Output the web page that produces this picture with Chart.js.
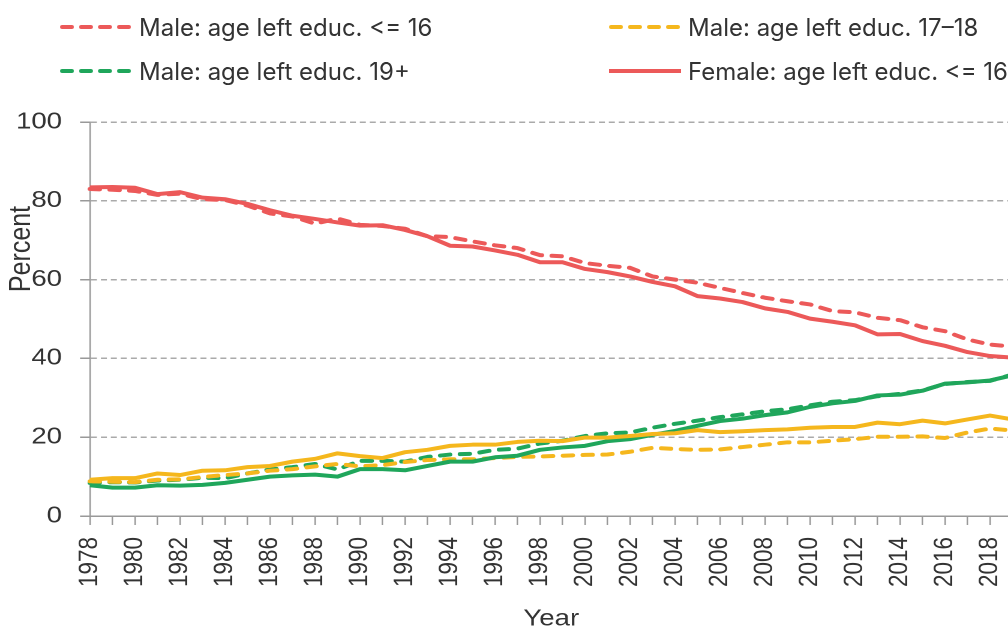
<!DOCTYPE html>
<html>
<head>
<meta charset="utf-8">
<script src="https://cdn.jsdelivr.net/npm/chart.js@4.4.1/dist/chart.umd.min.js"></script>
<style>
  html, body { margin: 0; padding: 0; background: #fff; overflow: hidden; width: 1008px; height: 631px; }
  /* o original parece esticado na horizontal: desenha mais estreito e estica */
  #wrap { position: absolute; left: 0; top: 0; width: 860px; height: 631px; transform: scaleX(1.2); transform-origin: 0 0; }
  #legenda { position: absolute; left: 0; top: 0; width: 1100px; height: 100px; font-family: Inter, sans-serif; font-size: 24px; color: #333; z-index: 2; }
  .item { position: absolute; display: flex; align-items: center; white-space: nowrap; height: 30px; }
  .item svg { margin-right: 7px; }
</style>
</head>
<body>
<div id="legenda"></div>
<div id="wrap"><canvas id="grafico"></canvas></div>
<script>
const anos = [1978, 1979, 1980, 1981, 1982, 1983, 1984, 1985, 1986, 1987, 1988, 1989, 1990, 1991,
  1992, 1993, 1994, 1995, 1996, 1997, 1998, 1999, 2000, 2001, 2002, 2003, 2004, 2005,
  2006, 2007, 2008, 2009, 2010, 2011, 2012, 2013, 2014, 2015, 2016, 2017, 2018, 2019];

const maleAte16 = [83.0, 82.8, 82.5, 81.5, 81.8, 80.4, 80.2, 78.8, 76.8, 76.0, 74.2, 75.5, 73.9, 73.6,
  72.9, 71.0, 70.8, 69.7, 68.7, 68.0, 66.2, 65.9, 64.2, 63.5, 63.0, 60.8, 60.0, 59.2,
  57.9, 56.6, 55.4, 54.5, 53.7, 52.0, 51.7, 50.3, 49.7, 47.9, 46.9, 44.8, 43.5, 43.0];
const femaleAte16 = [83.4, 83.5, 83.3, 81.7, 82.2, 80.8, 80.4, 79.2, 77.6, 76.2, 75.4, 74.5, 73.7, 73.8,
  72.6, 71.0, 68.6, 68.4, 67.4, 66.3, 64.4, 64.4, 62.7, 61.9, 60.8, 59.4, 58.3, 55.8,
  55.2, 54.3, 52.7, 51.8, 50.1, 49.3, 48.4, 46.1, 46.2, 44.4, 43.2, 41.6, 40.6, 40.2];
const male1718 = [8.8, 8.7, 8.6, 9.2, 9.3, 9.9, 10.4, 10.8, 11.5, 11.9, 12.6, 13.2, 12.6, 12.9,
  13.7, 14.2, 14.4, 14.4, 14.7, 15.0, 15.1, 15.3, 15.5, 15.6, 16.3, 17.3, 17.0, 16.8,
  16.9, 17.5, 18.1, 18.7, 18.7, 19.1, 19.5, 20.1, 20.1, 20.2, 19.8, 21.2, 22.2, 21.7];
const female1718 = [9.2, 9.6, 9.6, 10.8, 10.4, 11.5, 11.6, 12.4, 12.7, 13.8, 14.5, 15.9, 15.2, 14.7,
  16.2, 16.8, 17.8, 18.1, 18.1, 18.8, 19.1, 19.0, 19.9, 19.9, 20.3, 20.8, 21.0, 21.8,
  21.3, 21.5, 21.8, 22.0, 22.4, 22.6, 22.6, 23.7, 23.3, 24.2, 23.5, 24.5, 25.5, 24.5];
const male19 = [8.4, 8.6, 8.5, 9.0, 9.2, 9.7, 9.6, 10.8, 11.8, 12.4, 13.2, 11.8, 14.0, 14.0,
  13.8, 15.0, 15.6, 15.8, 16.8, 17.1, 18.4, 19.1, 20.3, 21.0, 21.2, 22.4, 23.4, 24.2,
  25.1, 25.8, 26.6, 27.1, 28.1, 29.0, 29.4, 30.4, 31.0, 31.9, 33.5, 34.0, 34.3, 35.9];
const female19 = [7.8, 7.2, 7.2, 7.8, 7.7, 7.9, 8.4, 9.2, 10.0, 10.3, 10.5, 10.0, 11.9, 11.9,
  11.6, 12.7, 13.8, 13.8, 14.9, 15.3, 16.8, 17.4, 17.8, 19.0, 19.5, 20.6, 21.6, 22.9,
  24.1, 24.7, 25.6, 26.3, 27.7, 28.6, 29.2, 30.6, 30.8, 31.8, 33.6, 33.9, 34.4, 35.7];

const yTicks = [0, 20, 40, 60, 80, 100];

const VERMELHO = '#ec5959';
const AMARELO = '#f5b71d';
const VERDE = '#1fa65b';
const TRACO = [8, 8.5];
const fonte = '"Liberation Sans", Arial, sans-serif';

function serie(label, data, cor, tracejada) {
  return {
    label, data,
    borderColor: cor,
    backgroundColor: cor,
    borderWidth: 4,
    borderDash: tracejada ? TRACO : [],
    borderCapStyle: tracejada ? 'round' : 'butt',
    borderJoinStyle: 'round',
    pointRadius: 0,
    tension: 0,
    fill: false
  };
}

const datasets = [
  serie('Female: age left educ. 17–18', female1718, AMARELO, false),
  serie('Female: age left educ. 19+', female19, VERDE, false),
  serie('Male: age left educ. 17–18', male1718, AMARELO, true),
  serie('Male: age left educ. 19+', male19, VERDE, true),
  serie('Female: age left educ. <= 16', femaleAte16, VERMELHO, false),
  serie('Male: age left educ. <= 16', maleAte16, VERMELHO, true),
];

// legenda em duas colunas (a terceira ficou fora do recorte)
const ordemLegenda = [
  'Male: age left educ. <= 16', 'Male: age left educ. 17–18',
  'Male: age left educ. 19+', 'Female: age left educ. <= 16'
];
const colunasX = [60, 609];
const linhasY = [12, 56];
const legenda = document.getElementById('legenda');
ordemLegenda.forEach((nome, i) => {
  const ds = datasets.find(d => d.label === nome);
  const dash = ds.borderDash.length ? `stroke-dasharray="10 9" stroke-linecap="round"` : '';
  const div = document.createElement('div');
  div.className = 'item';
  div.style.left = colunasX[i % 2] + 'px';
  div.style.top = linhasY[Math.floor(i / 2)] + 'px';
  div.innerHTML = `<svg width="72" height="10"><line x1="${dash ? 2 : 0}" y1="5" x2="${dash ? 70 : 72}" y2="5" stroke="${ds.borderColor}" stroke-width="4" ${dash}/></svg><span>${nome}</span>`;
  legenda.appendChild(div);
});

const tituloY = {
  id: 'tituloY',
  afterDraw(chart) {
    const ctx = chart.ctx;
    ctx.save();
    ctx.translate(18.3, 249);
    ctx.rotate(-Math.PI / 2);
    ctx.font = '25px ' + fonte;
    ctx.fillStyle = '#333';
    ctx.textAlign = 'center';
    ctx.textBaseline = 'middle';
    ctx.fillText('Percent', 0, 0);
    ctx.restore();
  }
};

new Chart(document.getElementById('grafico'), {
  type: 'line',
  data: { labels: anos, datasets },
  plugins: [tituloY],
  options: {
    responsive: true,
    maintainAspectRatio: false,
    animation: false,
    devicePixelRatio: 2,
    layout: { padding: { top: 122, left: 15, right: 16.25, bottom: 0 } },
    plugins: { legend: { display: false }, tooltip: { enabled: false } },
    scales: {
      x: {
        afterFit: s => { s.height = 115; s.paddingLeft = 0; s.paddingRight = 0; },
        ticks: {
          autoSkip: false,
          maxRotation: 90,
          minRotation: 90,
          padding: 12,
          color: '#333',
          font: { family: fonte, size: 22.5 },
          callback: function (v, i) { const a = anos[i]; return a % 2 === 0 ? String(a) : ''; }
        },
        grid: { drawOnChartArea: false, color: '#999', tickLength: 9, lineWidth: 1.25 },
        border: { color: '#999', width: 1.5 },
        title: { display: true, text: 'Year', color: '#333', font: { family: fonte, size: 23 }, padding: { top: 0, bottom: -2 } }
      },
      y: {
        min: 0,
        max: 100,
        afterFit: s => { s.width = 60; },
        afterBuildTicks: s => { s.ticks = yTicks.map(v => ({ value: v })); },
        ticks: { color: '#333', padding: 15, font: { family: fonte, size: 23 } },
        grid: { color: '#aaa', lineWidth: 1.5, tickLength: 8.3, tickColor: '#999' },
        border: { color: '#999', width: 1.25, dash: [5, 3.3] }
      }
    }
  }
});
</script>
</body>
</html>
